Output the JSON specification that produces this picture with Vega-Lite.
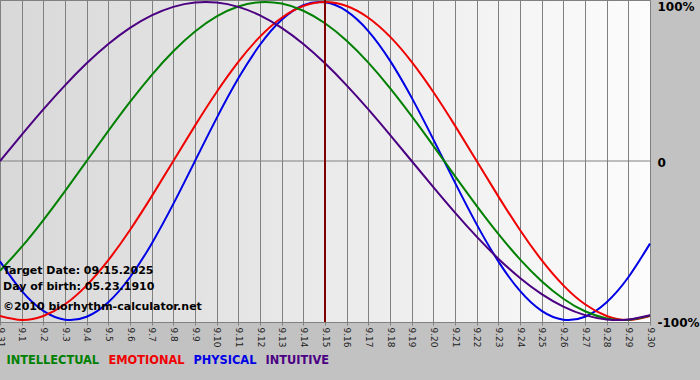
{
  "$schema": "https://vega.github.io/schema/vega-lite/v6.json",
  "width": 650,
  "height": 322,
  "autosize": "none",
  "padding": {"left": 0, "top": 0, "right": 50, "bottom": 58},
  "background": "#c2c2c2",
  "config": {
    "font": "DejaVu Sans",
    "view": {
      "fill": {"gradient": "linear", "x1": 0, "y1": 0, "x2": 1, "y2": 0, "stops": [{"offset": 0, "color": "#d8d8d8"}, {"offset": 1, "color": "#fcfcfc"}]},
      "stroke": "#808080",
      "strokeWidth": 1
    }
  },
  "resolve": {"axis": {"x": "independent", "y": "independent"}},
  "datasets": {
    "bio": [
      {"d":0,"cycle":"PHYSICAL","v":-0.6311},{"d":1,"cycle":"PHYSICAL","v":-0.8170},{"d":2,"cycle":"PHYSICAL","v":-0.9423},{"d":3,"cycle":"PHYSICAL","v":-0.9977},{"d":4,"cycle":"PHYSICAL","v":-0.9791},{"d":5,"cycle":"PHYSICAL","v":-0.8879},{"d":6,"cycle":"PHYSICAL","v":-0.7308},{"d":7,"cycle":"PHYSICAL","v":-0.5196},{"d":8,"cycle":"PHYSICAL","v":-0.2698},{"d":9,"cycle":"PHYSICAL","v":0},{"d":10,"cycle":"PHYSICAL","v":0.2698},{"d":11,"cycle":"PHYSICAL","v":0.5196},{"d":12,"cycle":"PHYSICAL","v":0.7308},{"d":13,"cycle":"PHYSICAL","v":0.8879},{"d":14,"cycle":"PHYSICAL","v":0.9791},{"d":15,"cycle":"PHYSICAL","v":0.9977},{"d":16,"cycle":"PHYSICAL","v":0.9423},{"d":17,"cycle":"PHYSICAL","v":0.8170},{"d":18,"cycle":"PHYSICAL","v":0.6311},{"d":19,"cycle":"PHYSICAL","v":0.3984},{"d":20,"cycle":"PHYSICAL","v":0.1362},{"d":21,"cycle":"PHYSICAL","v":-0.1362},{"d":22,"cycle":"PHYSICAL","v":-0.3984},{"d":23,"cycle":"PHYSICAL","v":-0.6311},{"d":24,"cycle":"PHYSICAL","v":-0.8170},{"d":25,"cycle":"PHYSICAL","v":-0.9423},{"d":26,"cycle":"PHYSICAL","v":-0.9977},{"d":27,"cycle":"PHYSICAL","v":-0.9791},{"d":28,"cycle":"PHYSICAL","v":-0.8879},{"d":29,"cycle":"PHYSICAL","v":-0.7308},{"d":30,"cycle":"PHYSICAL","v":-0.5196},
      {"d":0,"cycle":"EMOTIONAL","v":-0.9749},{"d":1,"cycle":"EMOTIONAL","v":-1},{"d":2,"cycle":"EMOTIONAL","v":-0.9749},{"d":3,"cycle":"EMOTIONAL","v":-0.9010},{"d":4,"cycle":"EMOTIONAL","v":-0.7818},{"d":5,"cycle":"EMOTIONAL","v":-0.6235},{"d":6,"cycle":"EMOTIONAL","v":-0.4339},{"d":7,"cycle":"EMOTIONAL","v":-0.2225},{"d":8,"cycle":"EMOTIONAL","v":0},{"d":9,"cycle":"EMOTIONAL","v":0.2225},{"d":10,"cycle":"EMOTIONAL","v":0.4339},{"d":11,"cycle":"EMOTIONAL","v":0.6235},{"d":12,"cycle":"EMOTIONAL","v":0.7818},{"d":13,"cycle":"EMOTIONAL","v":0.9010},{"d":14,"cycle":"EMOTIONAL","v":0.9749},{"d":15,"cycle":"EMOTIONAL","v":1},{"d":16,"cycle":"EMOTIONAL","v":0.9749},{"d":17,"cycle":"EMOTIONAL","v":0.9010},{"d":18,"cycle":"EMOTIONAL","v":0.7818},{"d":19,"cycle":"EMOTIONAL","v":0.6235},{"d":20,"cycle":"EMOTIONAL","v":0.4339},{"d":21,"cycle":"EMOTIONAL","v":0.2225},{"d":22,"cycle":"EMOTIONAL","v":0},{"d":23,"cycle":"EMOTIONAL","v":-0.2225},{"d":24,"cycle":"EMOTIONAL","v":-0.4339},{"d":25,"cycle":"EMOTIONAL","v":-0.6235},{"d":26,"cycle":"EMOTIONAL","v":-0.7818},{"d":27,"cycle":"EMOTIONAL","v":-0.9010},{"d":28,"cycle":"EMOTIONAL","v":-0.9749},{"d":29,"cycle":"EMOTIONAL","v":-1},{"d":30,"cycle":"EMOTIONAL","v":-0.9749},
      {"d":0,"cycle":"INTELLECTUAL","v":-0.6901},{"d":1,"cycle":"INTELLECTUAL","v":-0.5406},{"d":2,"cycle":"INTELLECTUAL","v":-0.3717},{"d":3,"cycle":"INTELLECTUAL","v":-0.1893},{"d":4,"cycle":"INTELLECTUAL","v":0},{"d":5,"cycle":"INTELLECTUAL","v":0.1893},{"d":6,"cycle":"INTELLECTUAL","v":0.3717},{"d":7,"cycle":"INTELLECTUAL","v":0.5406},{"d":8,"cycle":"INTELLECTUAL","v":0.6901},{"d":9,"cycle":"INTELLECTUAL","v":0.8146},{"d":10,"cycle":"INTELLECTUAL","v":0.9096},{"d":11,"cycle":"INTELLECTUAL","v":0.9718},{"d":12,"cycle":"INTELLECTUAL","v":0.9989},{"d":13,"cycle":"INTELLECTUAL","v":0.9898},{"d":14,"cycle":"INTELLECTUAL","v":0.9450},{"d":15,"cycle":"INTELLECTUAL","v":0.8660},{"d":16,"cycle":"INTELLECTUAL","v":0.7557},{"d":17,"cycle":"INTELLECTUAL","v":0.6182},{"d":18,"cycle":"INTELLECTUAL","v":0.4582},{"d":19,"cycle":"INTELLECTUAL","v":0.2817},{"d":20,"cycle":"INTELLECTUAL","v":0.0951},{"d":21,"cycle":"INTELLECTUAL","v":-0.0951},{"d":22,"cycle":"INTELLECTUAL","v":-0.2817},{"d":23,"cycle":"INTELLECTUAL","v":-0.4582},{"d":24,"cycle":"INTELLECTUAL","v":-0.6182},{"d":25,"cycle":"INTELLECTUAL","v":-0.7557},{"d":26,"cycle":"INTELLECTUAL","v":-0.8660},{"d":27,"cycle":"INTELLECTUAL","v":-0.9450},{"d":28,"cycle":"INTELLECTUAL","v":-0.9898},{"d":29,"cycle":"INTELLECTUAL","v":-0.9989},{"d":30,"cycle":"INTELLECTUAL","v":-0.9718},
      {"d":0,"cycle":"INTUITIVE","v":0},{"d":1,"cycle":"INTUITIVE","v":0.1646},{"d":2,"cycle":"INTUITIVE","v":0.3247},{"d":3,"cycle":"INTUITIVE","v":0.4759},{"d":4,"cycle":"INTUITIVE","v":0.6142},{"d":5,"cycle":"INTUITIVE","v":0.7357},{"d":6,"cycle":"INTUITIVE","v":0.8372},{"d":7,"cycle":"INTUITIVE","v":0.9158},{"d":8,"cycle":"INTUITIVE","v":0.9694},{"d":9,"cycle":"INTUITIVE","v":0.9966},{"d":10,"cycle":"INTUITIVE","v":0.9966},{"d":11,"cycle":"INTUITIVE","v":0.9694},{"d":12,"cycle":"INTUITIVE","v":0.9158},{"d":13,"cycle":"INTUITIVE","v":0.8372},{"d":14,"cycle":"INTUITIVE","v":0.7357},{"d":15,"cycle":"INTUITIVE","v":0.6142},{"d":16,"cycle":"INTUITIVE","v":0.4759},{"d":17,"cycle":"INTUITIVE","v":0.3247},{"d":18,"cycle":"INTUITIVE","v":0.1646},{"d":19,"cycle":"INTUITIVE","v":0},{"d":20,"cycle":"INTUITIVE","v":-0.1646},{"d":21,"cycle":"INTUITIVE","v":-0.3247},{"d":22,"cycle":"INTUITIVE","v":-0.4759},{"d":23,"cycle":"INTUITIVE","v":-0.6142},{"d":24,"cycle":"INTUITIVE","v":-0.7357},{"d":25,"cycle":"INTUITIVE","v":-0.8372},{"d":26,"cycle":"INTUITIVE","v":-0.9158},{"d":27,"cycle":"INTUITIVE","v":-0.9694},{"d":28,"cycle":"INTUITIVE","v":-0.9966},{"d":29,"cycle":"INTUITIVE","v":-0.9966},{"d":30,"cycle":"INTUITIVE","v":-0.9694}
    ],
    "one": [{}]
  },
  "layer": [
    {
      "data": {"name": "one"},
      "mark": {"type": "rule", "color": "#808080", "strokeWidth": 1},
      "encoding": {"y": {"datum": 0, "axis": null}}
    },
    {
      "data": {"name": "bio"},
      "mark": {"type": "line", "interpolate": "natural", "strokeWidth": 2},
      "encoding": {
        "x": {
          "field": "d", "type": "quantitative",
          "scale": {"domain": [0, 30], "nice": false, "zero": false},
          "axis": {
            "title": null,
            "values": [0,1,2,3,4,5,6,7,8,9,10,11,12,13,14,15,16,17,18,19,20,21,22,23,24,25,26,27,28,29,30],
            "labelExpr": "datum.value == 0 ? '9.31' : '9.' + datum.value",
            "labelAngle": 90, "labelAlign": "left", "labelBaseline": "middle",
            "labelFontSize": 9, "labelColor": "#222222", "labelPadding": 2,
            "labelOverlap": false, "labelFlush": false, "labelBound": false,
            "tickSize": 3, "tickColor": "#808080", "domain": false,
            "grid": true, "gridColor": "#808080", "gridOpacity": 1, "gridWidth": 1
          }
        },
        "y": {
          "field": "v", "type": "quantitative",
          "scale": {"domain": [-1.0124, 1.0124], "nice": false, "zero": false},
          "axis": {
            "title": null, "orient": "right", "values": [-1, 0, 1],
            "labelExpr": "datum.value == 1 ? '100%' : (datum.value == 0 ? '0' : '-100%')",
            "labelFontWeight": "bold", "labelFontSize": 12, "labelColor": "#000000",
            "labelPadding": 7, "ticks": false, "domain": false, "grid": false,
            "labelOverlap": false, "labelFlush": false, "labelBound": false,
            "labelOffset": {"expr": "datum.value == 1 ? 5 : (datum.value == 0 ? 1 : 2)"}
          }
        },
        "color": {
          "field": "cycle", "type": "nominal",
          "scale": {"domain": ["INTELLECTUAL", "EMOTIONAL", "PHYSICAL", "INTUITIVE"], "range": ["#008000", "#f00000", "#0000e6", "#4b0082"]},
          "legend": {
            "orient": "none", "legendX": 7, "legendY": 355, "direction": "horizontal",
            "title": null, "symbolSize": 0, "symbolOpacity": 0, "symbolStrokeWidth": 0,
            "labelOffset": -12, "columnPadding": 8, "labelFontWeight": "bold", "labelFontSize": 11.4,
            "labelLimit": 0,
            "encode": {"labels": {"update": {"fill": {"scale": "color", "field": "value"}}}}
          }
        }
      }
    },
    {
      "data": {"name": "one"},
      "mark": {"type": "rule", "color": "#800000", "strokeWidth": 2},
      "encoding": {"x": {"datum": 15, "axis": null}}
    },
    {
      "data": {"name": "one"},
      "mark": {"type": "text", "align": "left", "baseline": "middle", "dx": 3, "fontWeight": "bold", "fontSize": 11, "color": "#000000"},
      "encoding": {"x": {"datum": 0, "axis": null}, "y": {"datum": -0.692, "axis": null}, "text": {"value": "Target Date: 09.15.2025"}}
    },
    {
      "data": {"name": "one"},
      "mark": {"type": "text", "align": "left", "baseline": "middle", "dx": 3, "fontWeight": "bold", "fontSize": 11, "color": "#000000"},
      "encoding": {"x": {"datum": 0, "axis": null}, "y": {"datum": -0.792, "axis": null}, "text": {"value": "Day of birth: 05.23.1910"}}
    },
    {
      "data": {"name": "one"},
      "mark": {"type": "text", "align": "left", "baseline": "middle", "dx": 3, "fontWeight": "bold", "fontSize": 11, "color": "#000000"},
      "encoding": {"x": {"datum": 0, "axis": null}, "y": {"datum": -0.918, "axis": null}, "text": {"value": "©2010 biorhythm-calculator.net"}}
    }
  ]
}
